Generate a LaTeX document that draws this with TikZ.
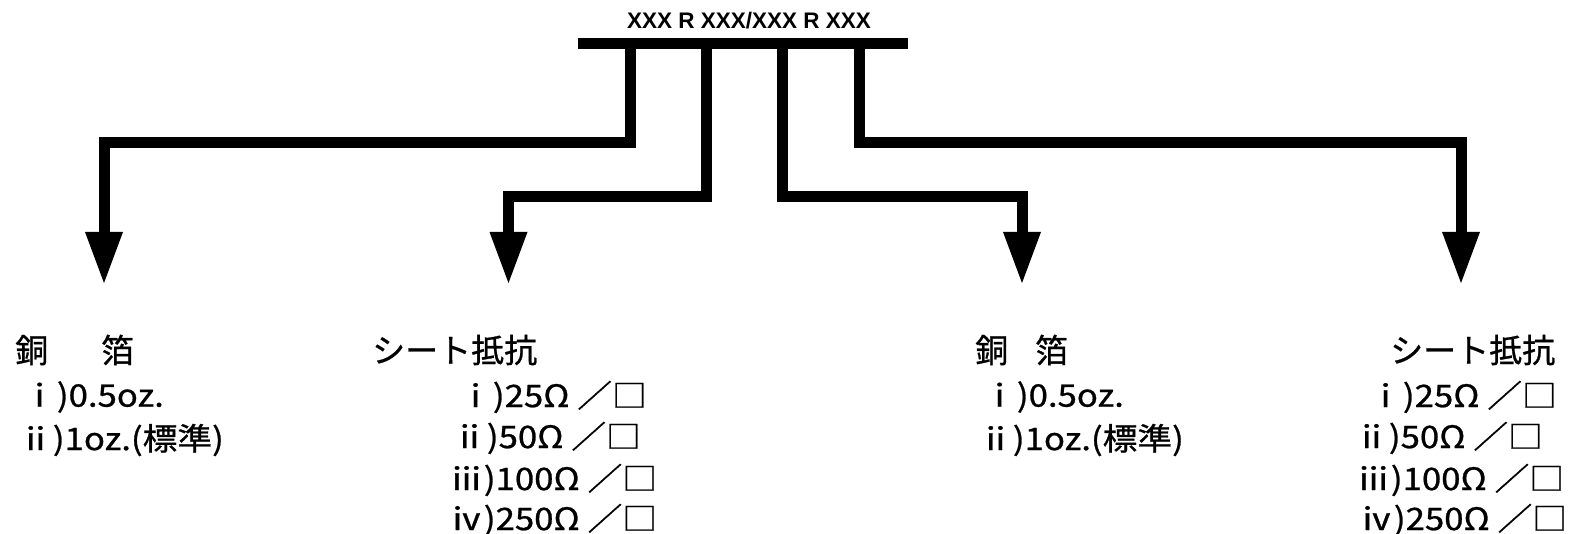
\documentclass[tikz,border=0pt]{standalone}
\usepackage{fontspec}
\newfontfamily\jp[FakeBold=0.8]{Noto Sans CJK JP}
\newfontfamily\lat{Liberation Sans}
\begin{document}
\begin{tikzpicture}[x=1pt,y=-1pt,
  conn/.style={line width=11pt,miter limit=10,line join=miter},
  head/.style={fill=black},
  ttl/.style={anchor=west,inner sep=0pt,font=\jp\fontsize{33}{40}\selectfont},
  row/.style={anchor=west,inner sep=0pt,xscale=1.12,font=\jp\fontsize{31}{38}\selectfont},
  ]
\useasboundingbox (0,0) rectangle (1571,534);
% title and bar
\node[inner sep=0pt,font=\lat\bfseries\fontsize{22.5}{26}\selectfont] (top) at (749,21) {XXX R XXX/XXX R XXX};
\node[fill=black,inner sep=0pt,minimum width=330pt,minimum height=11pt] (bar) at (743,43.5) {};
% connector coordinates
\coordinate (s1) at (630,44);   \coordinate (e1) at (104,232);
\coordinate (s2) at (706.5,44); \coordinate (e2) at (508.5,232);
\coordinate (s3) at (782.5,44); \coordinate (e3) at (1022,232);
\coordinate (s4) at (859,44);   \coordinate (e4) at (1461,232);
\draw[conn] (s1) -- (630,142.5) -- (104,142.5) -- (e1);
\draw[conn] (s2) -- (706.5,197) -- (508.5,197) -- (e2);
\draw[conn] (s3) -- (782.5,197) -- (1022,197) -- (e3);
\draw[conn] (s4) -- (859,142.5) -- (1461,142.5) -- (e4);
\foreach \e in {e1,e2,e3,e4}{
  \fill[head] ([xshift=-19pt]\e) -- ([xshift=19pt]\e) -- ([yshift=-51pt]\e) -- cycle;
}
% block 1
\node[ttl] (t1) at (15,350) {銅\hspace{53pt}箔};
\node[row] (a1) at (22,397) {ⅰ)0.5oz.};
\node[row] (a2) at (18,440) {ⅱ)1oz.(標準)};
% block 2
\node[ttl] (t2) at (372,350) {シート抵抗};
\node[row] (b1) at (458,397) {ⅰ)25Ω ／□};
\node[row] (b2) at (452,438) {ⅱ)50Ω ／□};
\node[row] (b3) at (449,480) {ⅲ)100Ω ／□};
\node[row] (b4) at (449,520) {ⅳ)250Ω ／□};
% block 3
\node[ttl] (t3) at (975,350) {銅\hspace{27pt}箔};
\node[row] (c1) at (982,397) {ⅰ)0.5oz.};
\node[row] (c2) at (978,440) {ⅱ)1oz.(標準)};
% block 4
\node[ttl] (t4) at (1390,350) {シート抵抗};
\node[row] (d1) at (1368,397) {ⅰ)25Ω ／□};
\node[row] (d2) at (1354,438) {ⅱ)50Ω ／□};
\node[row] (d3) at (1356,480) {ⅲ)100Ω ／□};
\node[row] (d4) at (1359,520) {ⅳ)250Ω ／□};
\end{tikzpicture}
\end{document}
